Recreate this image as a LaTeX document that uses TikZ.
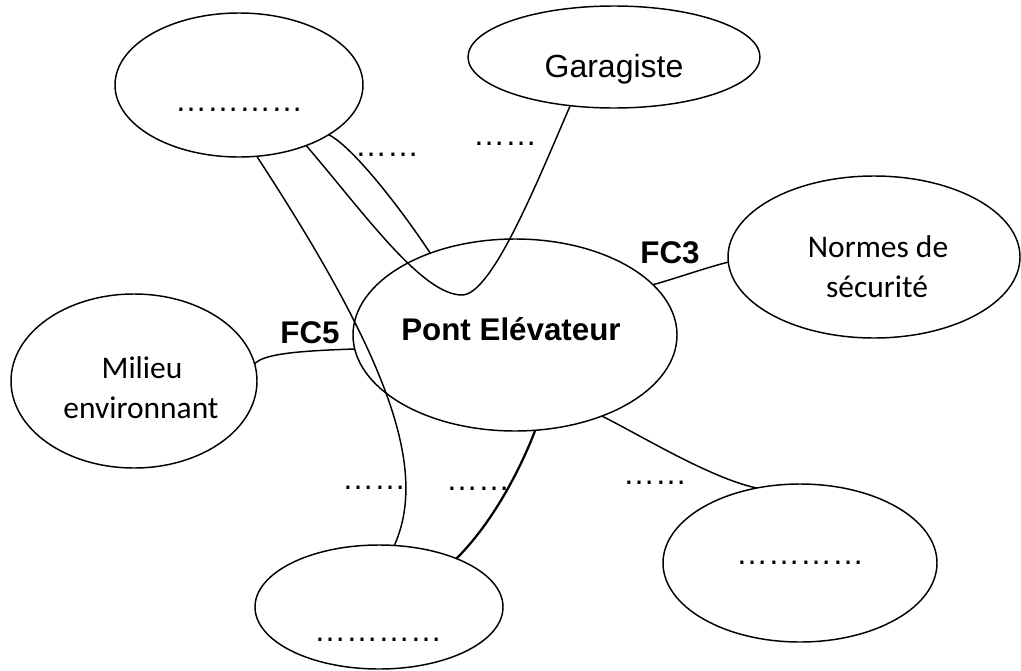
\documentclass[tikz,border=0pt]{standalone}
\usepackage{fontspec}
\setmainfont{Liberation Sans}
\newfontfamily\calib{Carlito}
\usetikzlibrary{shapes.geometric}
\begin{document}
\begin{tikzpicture}[x=0.75pt,y=-0.75pt,
  oval/.style={ellipse,draw,line width=1.1pt,inner sep=0pt,outer sep=0pt},
  link/.style={line width=1.1pt},
  boldlink/.style={line width=1.7pt},
  lbl/.style={anchor=base,inner sep=0pt,font=\fontsize{24}{28}\selectfont},
  blbl/.style={anchor=base,inner sep=0pt,font=\fontsize{23.5}{28}\selectfont\bfseries},
  clbl/.style={anchor=base,inner sep=0pt,font=\calib\fontsize{23.6}{28}\selectfont},
  dotlbl/.style={anchor=base,inner sep=0pt,font=\fontsize{24}{28}\selectfont}]
\path[use as bounding box] (0,0) rectangle (1021,671);

% ellipses
\node[oval,minimum width=186pt,minimum height=108pt] (tl) at (239,85) {};
\node[oval,minimum width=219pt,minimum height=76.5pt] (gar) at (614,57) {};
\node[oval,minimum width=219pt,minimum height=121.5pt] (nor) at (874,257) {};
\node[oval,minimum width=184.5pt,minimum height=130.5pt] (mil) at (134,381) {};
\node[oval,minimum width=243pt,minimum height=144pt] (pont) at (515,335) {};
\node[oval,minimum width=186pt,minimum height=93pt] (bc) at (379,607) {};
\node[oval,minimum width=205.5pt,minimum height=118.5pt] (br) at (800,563) {};

% texts in ellipses
\node[lbl] (tgar) at (614,77) {Garagiste};
\node[clbl] (tnor1) at (878,257) {Normes de};
\node[clbl] (tnor2) at (877,297) {sécurité};
\node[clbl] (tmil1) at (142,378) {Milieu};
\node[clbl] (tmil2) at (141,418) {environnant};
\node[blbl] (tpont) at (511,340) {Pont Elévateur};
\node[dotlbl] (ttl) at (239,111) {…………};
\node[dotlbl] (tbc) at (378,641) {…………};
\node[dotlbl] (tbr) at (800,564) {…………};

% connector labels
\node[blbl] (fc3) at (670,263) {FC3};
\node[blbl] (fc5) at (310,343) {FC5};
\node[dotlbl] (d1) at (387,156) {……};
\node[dotlbl] (d2) at (505,145) {……};
\node[dotlbl] (d3) at (374,489) {……};
\node[dotlbl] (d4) at (478,490) {……};
\node[dotlbl] (d5) at (655,484) {……};

% connectors
\coordinate (dip) at (462,295);
\draw[link] (tl.-76) .. controls (390,360) and (428,470) .. (bc.76);
\draw[link] (tl.-42) .. controls (364,213) and (422,295) .. (dip)
  .. controls (492,295) and (538,180) .. (gar.-132);
\draw[link] (tl.-29) .. controls (350,145) and (395,200) .. (pont.136);
\draw[link] (pont.20) .. controls (680,277) and (705,268) .. (nor.-178);
\draw[link] (mil.8) .. controls (262,355) and (290,351) .. (pont.185);
\draw[boldlink] (pont.-78) .. controls (522,465) and (495,520) .. (bc.32);
\draw[link] (pont.-43) .. controls (640,435) and (710,478) .. (br.120);
\end{tikzpicture}
\end{document}
